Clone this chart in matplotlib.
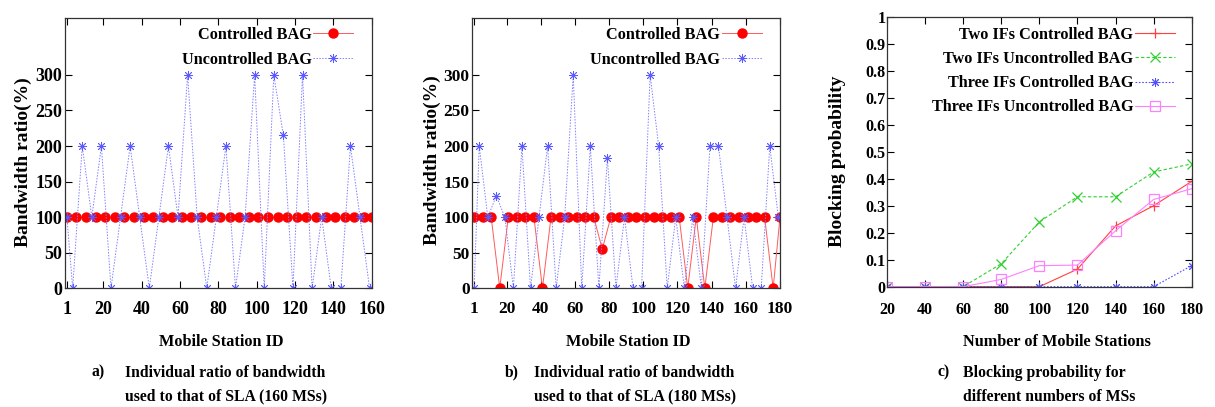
import matplotlib.pyplot as plt

plt.rcParams['font.family'] = ['Liberation Serif', 'DejaVu Serif']
plt.rcParams['font.weight'] = 'bold'

W, H = 1215, 407

# a) 160 MSs
a_ctrl_id = [1, 6, 11, 16, 21, 26, 31, 36, 41, 46, 51, 56, 61, 66, 71, 76, 81,
             86, 91, 96, 101, 106, 111, 116, 121, 126, 131, 136, 141, 146, 151,
             156, 160]
a_ctrl_val = [100] * 33
a_unc_id = [1, 4, 9, 14, 19, 24, 29, 34, 39, 44, 49, 54, 59, 64, 69, 74, 79,
            84, 89, 94, 99, 104, 109, 114, 119, 124, 129, 134, 139, 144, 149,
            154, 159]
a_unc_val = [100, 0, 200, 100, 200, 0, 100, 200, 100, 0, 100, 200, 100, 300,
             100, 0, 100, 200, 0, 100, 300, 0, 300, 215, 0, 300, 0, 100, 0, 0,
             200, 100, 0]

# b) 180 MSs
b_ctrl_id = [1, 6, 11, 16, 21, 26, 31, 36, 41, 46, 51, 56, 61, 66, 71, 76, 81,
             86, 91, 96, 101, 106, 111, 116, 121, 126, 131, 136, 141, 146, 151,
             156, 161, 166, 171, 176, 180]
b_ctrl_val = [100, 100, 100, 0, 100, 100, 100, 100, 0, 100, 100, 100, 100, 100,
              100, 55, 100, 100, 100, 100, 100, 100, 100, 100, 100, 0, 100, 0,
              100, 100, 100, 100, 100, 100, 100, 0, 100]
b_unc_id = [1, 4, 9, 14, 19, 24, 29, 34, 39, 44, 49, 54, 59, 64, 69, 74, 79,
            84, 89, 94, 99, 104, 109, 114, 119, 124, 129, 134, 139, 144, 149,
            154, 159, 164, 169, 174, 179]
b_unc_val = [0, 200, 100, 130, 100, 0, 200, 0, 100, 200, 0, 100, 300, 0, 200,
             0, 183, 0, 100, 0, 0, 300, 200, 0, 100, 0, 100, 0, 200, 200, 100,
             0, 100, 0, 0, 200, 100]

# c) blocking probability
n_ms = [20, 40, 60, 80, 100, 120, 140, 160, 180]
two_ctrl = [0, 0, 0, 0, 0, 0.065, 0.225, 0.30, 0.39]
two_unc = [0, 0, 0, 0.085, 0.24, 0.333, 0.333, 0.425, 0.455]
three_ctrl = [0, 0, 0, 0, 0, 0, 0, 0, 0.078]
three_unc = [0, 0, 0, 0.027, 0.078, 0.08, 0.207, 0.323, 0.363]

ab_xticks = [1, 20, 40, 60, 80, 100, 120, 140, 160, 180]
ab_yticks = [0, 50, 100, 150, 200, 250, 300]
c_yticks = [0, 0.1, 0.2, 0.3, 0.4, 0.5, 0.6, 0.7, 0.8, 0.9, 1]
c_ylabels = ['0', '0.1', '0.2', '0.3', '0.4', '0.5', '0.6', '0.7', '0.8', '0.9', '1']

ASTER = (8, 2, 0)


def box(left, right, top, bottom):
    return [left / W, 1 - bottom / H, (right - left) / W, (bottom - top) / H]


def ftext(x, y, s, **kw):
    fig.text(x / W, 1 - y / H, s, **kw)


fig = plt.figure(figsize=(W / 100, H / 100), dpi=100)

ax_a = fig.add_axes(box(65, 371.5, 18, 288.3))
ax_b = fig.add_axes(box(472.4, 780, 18, 288.3))
ax_c = fig.add_axes(box(887, 1191.7, 16.7, 286.7))


def bag_panel(ax, cid, cval, uid, uval, xmax, fs):
    ax.plot(cid, cval, color='#ff5a5a', lw=0.7, marker='o', ms=6.5,
            mfc='red', mec='red', label='Controlled BAG')
    ax.plot(uid, uval, color='#8080ff', lw=0.7, ls=(0, (1.5, 1.5)),
            marker=ASTER, ms=6.5, mec='#5a5aff', mew=0.6, label='Uncontrolled BAG')
    ax.set_xlim(0, xmax)
    ax.set_ylim(0, 380)
    ax.set_xticks([t for t in ab_xticks if t <= xmax])
    ax.set_yticks(ab_yticks)
    ax.tick_params(direction='in', length=5, width=0.8, top=True, right=True,
                   labelsize=fs)
    ax.tick_params(axis='x', pad=9)
    ax.tick_params(axis='y', pad=2)
    ax.legend(loc='upper right', bbox_to_anchor=(0.94, 0.967), frameon=False,
              markerfirst=False, fontsize=11.7, handlelength=2.46,
              handletextpad=0.1, labelspacing=0.54, borderpad=0,
              borderaxespad=0)


bag_panel(ax_a, a_ctrl_id, a_ctrl_val, a_unc_id, a_unc_val, 160, 13)
bag_panel(ax_b, b_ctrl_id, b_ctrl_val, b_unc_id, b_unc_val, 180, 12.5)

ax_c.plot(n_ms, two_ctrl, color='#ff4040', lw=0.8, marker='+', ms=7,
          mew=0.9, label='Two IFs Controlled BAG')
ax_c.plot(n_ms, two_unc, color='#30d030', lw=0.8, ls=(0, (3, 2)), marker='x',
          ms=6.5, mew=0.9, label='Two IFs Uncontrolled BAG')
ax_c.plot(n_ms, three_ctrl, color='#5050ff', lw=0.8, ls=(0, (1.5, 1.5)),
          marker=ASTER, ms=6.5, mew=0.7, label='Three IFs Controlled BAG')
ax_c.plot(n_ms, three_unc, color='#ff80ff', lw=0.8, marker='s', ms=6.5,
          mfc='none', mew=0.9, label='Three IFs Uncontrolled BAG')
ax_c.set_xlim(20, 180)
ax_c.set_ylim(0, 1)
ax_c.set_xticks(n_ms)
ax_c.set_yticks(c_yticks)
ax_c.set_yticklabels(c_ylabels)
ax_c.tick_params(direction='in', length=5, width=0.8, top=True, right=True,
                 labelsize=11.5)
ax_c.tick_params(axis='x', pad=11)
ax_c.tick_params(axis='y', pad=1)
ax_c.legend(loc='upper right', bbox_to_anchor=(0.945, 0.962), frameon=False,
            markerfirst=False, fontsize=11.7, handlelength=2.46,
            handletextpad=0.1, labelspacing=0.5, borderpad=0, borderaxespad=0)

for ax in (ax_a, ax_b, ax_c):
    for sp in ax.spines.values():
        sp.set_linewidth(0.9)
        sp.set_color('#333333')

# axis labels
ftext(23, 162, 'Bandwidth ratio(%)', rotation=90, ha='center', va='center', fontsize=14)
ftext(432, 160, 'Bandwidth ratio(%)', rotation=90, ha='center', va='center', fontsize=14)
ftext(838, 161, 'Blocking probability', rotation=90, ha='center', va='center', fontsize=14)
ftext(221, 341.7, 'Mobile Station ID', ha='center', va='center', fontsize=11.7)
ftext(628, 341.7, 'Mobile Station ID', ha='center', va='center', fontsize=11.7)
ftext(1057, 341.7, 'Number of Mobile Stations', ha='center', va='center', fontsize=11.7)

# captions
ftext(92, 372.7, 'a)', ha='left', va='center', fontsize=11.3)
ftext(125, 372.7, 'Individual ratio of bandwidth', ha='left', va='center', fontsize=11.3)
ftext(125, 396.7, 'used to that of SLA (160 MSs)', ha='left', va='center', fontsize=11.3)
ftext(505, 372.7, 'b)', ha='left', va='center', fontsize=11.3)
ftext(534, 372.7, 'Individual ratio of bandwidth', ha='left', va='center', fontsize=11.3)
ftext(534, 396.7, 'used to that of SLA (180 MSs)', ha='left', va='center', fontsize=11.3)
ftext(937, 372.7, 'c)', ha='left', va='center', fontsize=11.3)
ftext(963, 372.7, 'Blocking probability for', ha='left', va='center', fontsize=11.3)
ftext(963, 396.7, 'different numbers of MSs', ha='left', va='center', fontsize=11.3)

fig.savefig('out.png', dpi=100)
